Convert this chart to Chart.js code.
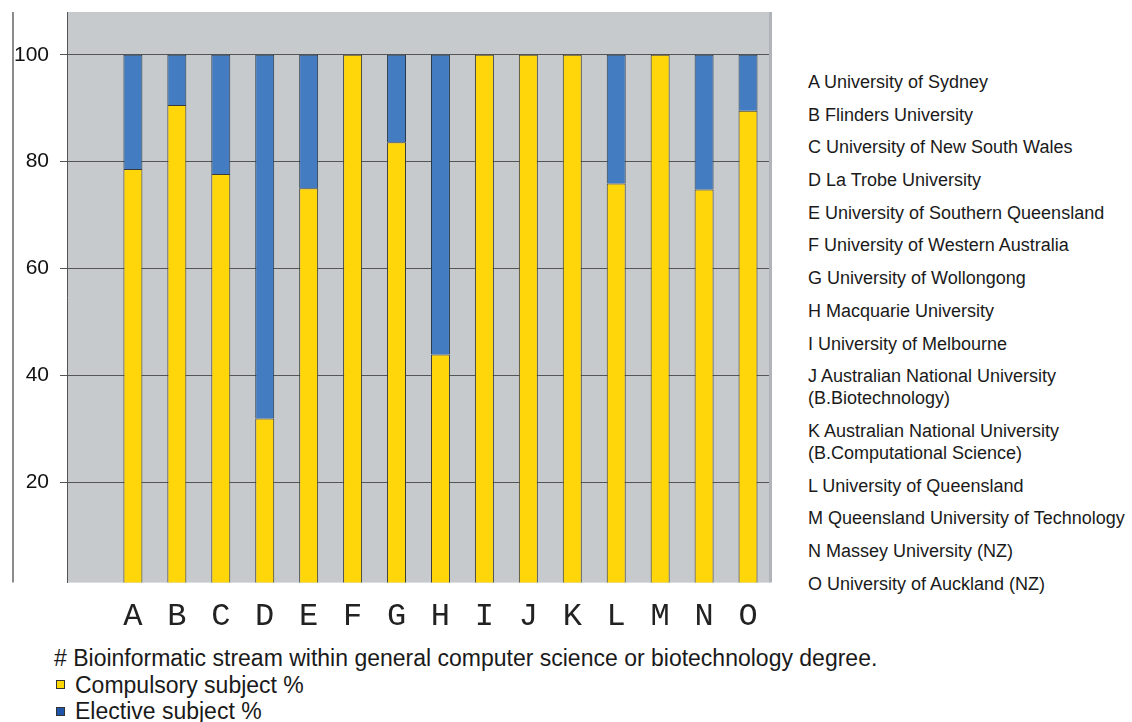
<!DOCTYPE html>
<html>
<head>
<meta charset="utf-8">
<script src="https://cdn.jsdelivr.net/npm/chart.js@4/dist/chart.umd.min.js"></script>
<style>
  body { margin: 0; background: #fff; font-family: "Liberation Sans", Arial, sans-serif; color: #1a1a1a; }
  #wrap { position: absolute; left: 0; top: 0; width: 780px; height: 643px; }
  #names { position: absolute; left: 808px; top: 71px; margin: 0; padding: 0; list-style: none; font-size: 18px; line-height: 22px; }
  #names li { margin-bottom: 10.7px; }
  #note { position: absolute; left: 54px; top: 645px; font-size: 23px; line-height: 26.5px; }
  #note .key { display: inline-block; width: 7px; height: 7px; border: 1px solid #333; margin: 0 10px 3px 2px; vertical-align: middle; }
</style>
</head>
<body>
<div id="wrap"><canvas id="mychart"></canvas></div>
<ul id="names"></ul>
<div id="note">
  <div># Bioinformatic stream within general computer science or biotechnology degree.</div>
  <div><span class="key" style="background:#ffd700"></span>Compulsory subject %</div>
  <div><span class="key" style="background:#1f55a8"></span>Elective subject %</div>
</div>
<script>
const categories = ['A', 'B', 'C', 'D', 'E', 'F', 'G', 'H', 'I', 'J', 'K', 'L', 'M', 'N', 'O'];
const universities = [
    'A University of Sydney',
    'B Flinders University',
    'C University of New South Wales',
    'D La Trobe University',
    'E University of Southern Queensland',
    'F University of Western Australia',
    'G University of Wollongong',
    'H Macquarie University',
    'I University of Melbourne',
    'J Australian National University<br>(B.Biotechnology)',
    'K Australian National University<br>(B.Computational Science)',
    'L University of Queensland',
    'M Queensland University of Technology',
    'N Massey University (NZ)',
    'O University of Auckland (NZ)'
];
const compulsory = [78.6, 90.6, 77.7, 31.9, 75.0, 100, 83.6, 43.9, 100, 100, 100, 75.9, 100, 74.8, 89.5];
const elective = [21.4, 9.4, 22.3, 68.1, 25.0, 0, 16.4, 56.1, 0, 0, 0, 24.1, 0, 25.2, 10.5];
const yTicks = [20, 40, 60, 80, 100];

document.getElementById('names').innerHTML = universities.map(u => '<li>' + u + '</li>').join('');

// the original plot leaves one empty slot before A
const labels = [''].concat(categories);

const plotBg = {
    id: 'plotBg',
    beforeDraw(chart) {
        const { ctx, chartArea: a } = chart;
        ctx.save();
        ctx.fillStyle = '#c6cacd';
        ctx.fillRect(a.left, a.top, a.right - a.left, a.bottom - a.top);
        ctx.restore();
    },
    afterDraw(chart) {
        const { ctx, chartArea: a } = chart;
        const y = chart.scales.y;
        ctx.save();
        ctx.strokeStyle = '#b0b4b8';
        ctx.lineWidth = 3;
        ctx.beginPath();
        ctx.moveTo(a.right + 0.5, a.top);
        ctx.lineTo(a.right + 0.5, a.bottom);
        ctx.stroke();
        ctx.strokeStyle = '#666';
        ctx.lineWidth = 1.5;
        ctx.beginPath();
        ctx.moveTo(y.left + 1, a.top);
        ctx.lineTo(y.left + 1, a.bottom);
        ctx.stroke();
        ctx.restore();
    }
};

const ctx = document.getElementById('mychart').getContext('2d');
let myChart = new Chart(ctx, {
    type: 'bar',
    data: {
        labels: labels,
        datasets: [
            {
                label: 'Compulsory subject %',
                data: [null].concat(compulsory),
                backgroundColor: '#ffd60a',
                borderColor: '#3a3a3a',
                borderWidth: 1,
                barPercentage: 0.432,
                categoryPercentage: 1
            },
            {
                label: 'Elective subject %',
                data: [null].concat(elective),
                backgroundColor: '#437cc1',
                borderColor: '#2a3a4a',
                borderWidth: 1,
                barPercentage: 0.432,
                categoryPercentage: 1
            }
        ]
    },
    options: {
        responsive: true,
        maintainAspectRatio: false,
        animation: false,
        layout: { padding: { left: 12, top: 12, right: 10 } },
        plugins: {
            legend: { display: false },
            tooltip: { enabled: false }
        },
        scales: {
            x: {
                stacked: true,
                grid: { display: false },
                border: { display: false },
                ticks: {
                    color: '#222',
                    padding: 7,
                    font: { family: '"Liberation Mono", "Courier New", monospace', size: 32 }
                }
            },
            y: {
                stacked: true,
                min: 1.2,
                max: 108,
                afterBuildTicks: (scale) => { scale.ticks = yTicks.map(v => ({ value: v })); },
                afterFit: (scale) => {
                    scale.width = 55;
                    scale.paddingTop = 0;
                    scale.paddingBottom = 0;
                },
                grid: { color: '#555', lineWidth: 1, tickLength: 7 },
                border: { display: true, color: '#555', width: 1 },
                ticks: {
                    color: '#111',
                    padding: 11,
                    font: { family: '"Liberation Sans", Arial, sans-serif', size: 21 }
                }
            }
        }
    },
    plugins: [plotBg]
});
</script>
</body>
</html>
